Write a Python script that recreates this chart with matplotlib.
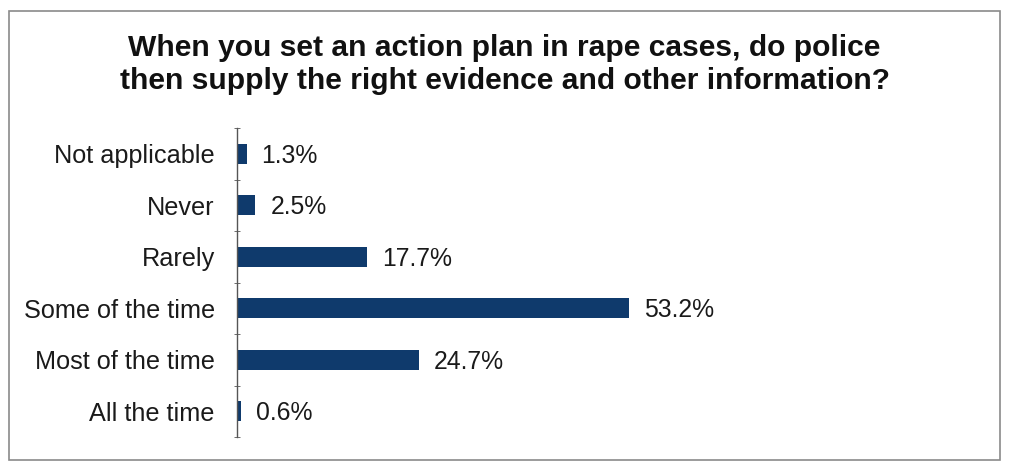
import matplotlib
matplotlib.use("Agg")
import matplotlib.pyplot as plt
from matplotlib.patches import Rectangle

plt.rcParams['font.family'] = ['Liberation Sans', 'DejaVu Sans']

categories = ["Not applicable", "Never", "Rarely", "Some of the time",
              "Most of the time", "All the time"]
values = [1.3, 2.5, 17.7, 53.2, 24.7, 0.6]
value_labels = ["1.3%", "2.5%", "17.7%", "53.2%", "24.7%", "0.6%"]
title = ("When you set an action plan in rape cases, do police\n"
         "then supply the right evidence and other information?")

bar_color = "#0f3a6c"

fig = plt.figure(figsize=(10.09, 4.68), dpi=100)
fig.patch.set_facecolor("white")

# outer frame
fig.patches.append(Rectangle((0.009, 0.018), 0.982, 0.958, transform=fig.transFigure,
                             fill=False, edgecolor="#8a8a8a", linewidth=1.2))

ax = fig.add_axes([0.2349, 0.0662, 0.7304, 0.660])
n = len(categories)
ypos = list(range(n))
ax.barh(ypos, values, height=0.39, color=bar_color)
ax.set_ylim(n - 0.5, -0.5)
ax.set_xlim(0, 100)

ax.set_yticks(ypos)
ax.set_yticklabels(categories, fontsize=18.2, color="#1a1a1a")
ax.set_yticks([i - 0.5 for i in range(n + 1)], minor=True)
ax.tick_params(axis="y", which="major", length=0, pad=16)
ax.tick_params(axis="y", which="minor", length=4, direction="inout", color="#555555")
ax.set_xticks([])

for s in ["top", "right", "bottom"]:
    ax.spines[s].set_visible(False)
ax.spines["left"].set_color("#555555")
ax.spines["left"].set_linewidth(1.0)

for y, v, lab in zip(ypos, values, value_labels):
    ax.annotate(lab, xy=(v, y), xytext=(15, -2), textcoords="offset pixels",
                ha="left", va="center", fontsize=17.8, color="#1a1a1a")

fig.text(0.5, 0.862, title, ha="center", va="center", fontsize=21.6,
         fontweight="bold", linespacing=1.25, color="#111111")

fig.savefig("out.png", dpi=100)
